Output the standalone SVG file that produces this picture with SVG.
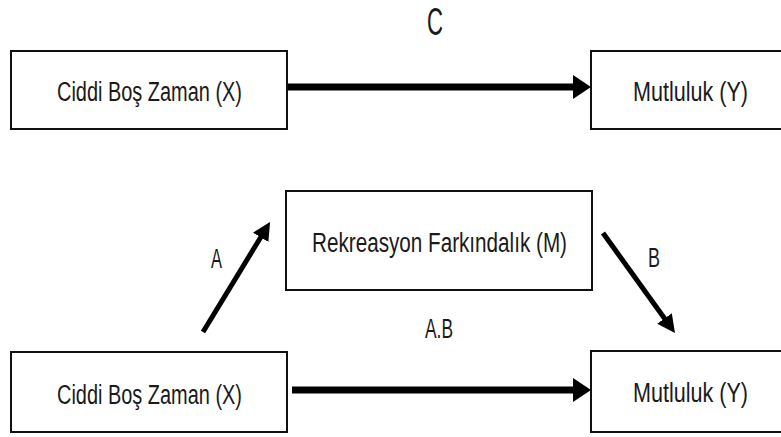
<svg xmlns="http://www.w3.org/2000/svg" width="781" height="437" viewBox="0 0 781 437">
<style>
.box{fill:#fff;stroke:#111;stroke-width:2}
.t{font-family:"Liberation Sans",Arial,sans-serif;font-size:27px;fill:#1a1a1a}
.c{font-size:38px}
.conn{stroke:#000;fill:none}
.thick{stroke-width:7}
.thin{stroke-width:5}
</style>
<defs>
<marker id="bigHead" markerUnits="userSpaceOnUse" markerWidth="18" markerHeight="24" viewBox="0 0 18 24" refX="6" refY="12" orient="auto">
<path d="M0,0 L18,12 L0,24 z" fill="#000"/>
</marker>
<marker id="smallHead" markerUnits="userSpaceOnUse" markerWidth="18" markerHeight="18" viewBox="0 0 18 18" refX="6" refY="9" orient="auto">
<path d="M0,0 L18,9 L0,18 z" fill="#000"/>
</marker>
</defs>
<rect width="781" height="437" fill="#fff"/>
<g id="connectors">
<line class="conn thick" x1="287" y1="87" x2="579" y2="87" marker-end="url(#bigHead)"/>
<line class="conn thick" x1="292" y1="390" x2="579" y2="390" marker-end="url(#bigHead)"/>
<line class="conn thin" x1="203" y1="332" x2="263.8" y2="232.2" marker-end="url(#smallHead)"/>
<line class="conn thin" x1="603" y1="233" x2="668" y2="323.3" marker-end="url(#smallHead)"/>
</g>
<g id="labels">
<text class="t c" x="427" y="35" textLength="16" lengthAdjust="spacingAndGlyphs">C</text>
<text class="t" x="211" y="268" textLength="11" lengthAdjust="spacingAndGlyphs">A</text>
<text class="t" x="648" y="267" textLength="12" lengthAdjust="spacingAndGlyphs">B</text>
<text class="t" x="425" y="338" textLength="28" lengthAdjust="spacingAndGlyphs">A.B</text>
</g>
<g id="x-top">
<rect class="box" x="11" y="51" width="276" height="78"/>
<text class="t" x="57" y="101" textLength="185" lengthAdjust="spacingAndGlyphs">Ciddi Boş Zaman (X)</text>
</g>
<g id="y-top">
<rect class="box" x="591" y="51" width="200" height="78"/>
<text class="t" x="633" y="101" textLength="115" lengthAdjust="spacingAndGlyphs">Mutluluk (Y)</text>
</g>
<g id="m-mid">
<rect class="box" x="286" y="191" width="306" height="99"/>
<text class="t" x="312" y="252" textLength="255" lengthAdjust="spacingAndGlyphs">Rekreasyon Farkındalık (M)</text>
</g>
<g id="x-bottom">
<rect class="box" x="11" y="352" width="276" height="80"/>
<text class="t" x="57" y="404" textLength="185" lengthAdjust="spacingAndGlyphs">Ciddi Boş Zaman (X)</text>
</g>
<g id="y-bottom">
<rect class="box" x="591" y="351" width="200" height="81"/>
<text class="t" x="633" y="402" textLength="115" lengthAdjust="spacingAndGlyphs">Mutluluk (Y)</text>
</g>
</svg>
